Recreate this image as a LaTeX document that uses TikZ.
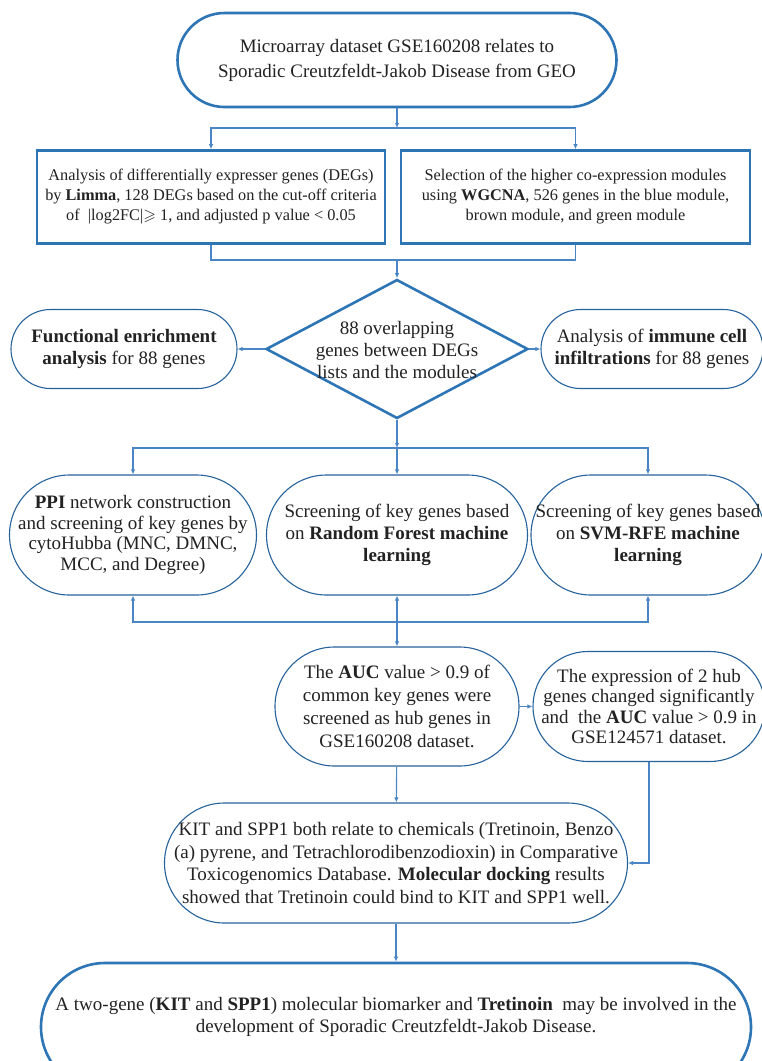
\documentclass[tikz,border=0pt]{standalone}
\usepackage{fontspec}
\setmainfont{Liberation Serif}
\usepackage{amssymb}
\usetikzlibrary{shapes.geometric,arrows.meta}
\definecolor{flowblue}{HTML}{2E75B6}
\definecolor{linkblue}{HTML}{4A86C5}
\definecolor{inkgray}{HTML}{222222}

\begin{document}
\begin{tikzpicture}[x=1pt, y=-1pt, >={Latex[length=5pt,width=4.5pt]}, text=inkgray,
		font=\fontsize{19}{22}\selectfont,
		thickpill/.style={draw=flowblue, line width=2.6pt, rounded corners=#1, inner sep=0pt, align=center},
		thinpill/.style={draw=flowblue!85!black, line width=1.1pt, rounded corners=#1, inner sep=0pt, align=center},
		bigbox/.style={draw=flowblue, line width=2.6pt, inner sep=0pt, align=center, minimum height=93, font=\fontsize{16.3}{20}\selectfont},
		link/.style={draw=linkblue, line width=1.1pt}]
		\useasboundingbox[fill=white] (0,0) rectangle (761,1061);
		% data source
		\node[thickpill=47, minimum width=439, minimum height=94, font=\fontsize{19}{25}\selectfont] (top) at (397,60)
			{Microarray dataset GSE160208 relates to\\Sporadic Creutzfeldt-Jakob Disease from GEO};
		% DEGs and WGCNA
		\node[bigbox, minimum width=348] (degs) at (211,197)
			{Analysis of differentially expresser genes (DEGs)\\by \textbf{Limma}, 128 DEGs based on the cut-off criteria\\of~ |log2FC|$\geqslant$ 1, and adjusted p value < 0.05};
		\node[bigbox, minimum width=349] (wgcna) at (575.5,197)
			{Selection of the higher co-expression modules\\using \textbf{WGCNA}, 526 genes in the blue module,\\brown module, and green module};
		% overlap of both lists
		\node[diamond, draw=flowblue, line width=2.6pt, minimum width=262, minimum height=139, inner sep=0pt] (overlap) at (397,349) {};
		\node[align=center] (overlaptext) at (397,350) {88 overlapping\\genes between DEGs\\lists and the modules};
		\node[thinpill=39.5, minimum width=226, minimum height=79] (func) at (124,349)
			{\textbf{Functional enrichment}\\\textbf{analysis} for 88 genes};
		\node[thinpill=39.5, minimum width=222, minimum height=79] (immune) at (652,349)
			{Analysis of \textbf{immune cell}\\\textbf{infiltrations} for 88 genes};
		% screening of key genes
		\node[thinpill=60, minimum width=247, minimum height=120, font=\fontsize{19}{20.5}\selectfont] (ppi) at (133,535)
			{\textbf{PPI} network construction\\and screening of key genes by\\cytoHubba (MNC, DMNC,\\MCC, and Degree)};
		\node[thinpill=60, minimum width=261, minimum height=120] (rf) at (397,535)
			{Screening of key genes based\\on \textbf{Random Forest machine}\\\textbf{learning}};
		\node[thinpill=60, minimum width=234, minimum height=120] (svm) at (648,535)
			{Screening of key genes based\\on \textbf{SVM-RFE machine}\\\textbf{learning}};
		% hub genes
		\node[thinpill=59.5, minimum width=244, minimum height=119, font=\fontsize{19}{23}\selectfont] (auc) at (397,706.5)
			{The \textbf{AUC} value > 0.9 of\\common key genes were\\screened as hub genes in\\GSE160208 dataset.};
		\node[thinpill=55, minimum width=232, minimum height=110, font=\fontsize{19}{20.5}\selectfont] (hub) at (649,706.5)
			{The expression of 2 hub\\genes changed significantly\\and~ the \textbf{AUC} value > 0.9 in\\GSE124571 dataset.};
		\node[thinpill=60, minimum width=463, minimum height=120, font=\fontsize{19}{22.5}\selectfont] (kit) at (396,863)
			{KIT and SPP1 both relate to chemicals (Tretinoin, Benzo\\(a) pyrene, and Tetrachlorodibenzodioxin) in Comparative\\Toxicogenomics Database. \textbf{Molecular docking} results\\showed that Tretinoin could bind to KIT and SPP1 well.};
		% conclusion
		\node[thickpill=64, minimum width=710, minimum height=128] (final) at (396,1027) {};
		\node[align=center] (finaltext) at (396,1017)
			{A two-gene (\textbf{KIT} and \textbf{SPP1}) molecular biomarker and \textbf{Tretinoin}~ may be involved in the\\development of Sporadic Creutzfeldt-Jakob Disease.};
		% connectors
		\coordinate (j1) at (397,128);
		\coordinate (j2) at (397,260);
		\coordinate (j3) at (397,448);
		\coordinate (j4) at (397,622);
		\draw[link,->] (top) -- (j1);
		\draw[link,->] (j1) -| (degs);
		\draw[link,->] (j1) -| (wgcna);
		\draw[link] (degs) |- (j2) -| (wgcna);
		\draw[link,->] (j2) -- (overlap);
		\draw[link,->] (overlap.west) -- (func.east);
		\draw[link,->] (overlap.east) -- (immune.west);
		\draw[link,->] (overlap) -- (j3);
		\draw[link,->] (j3) -| (ppi);
		\draw[link,->] (j3) -- (rf);
		\draw[link,->] (j3) -| (svm);
		\draw[link,->] (j4) -| (ppi);
		\draw[link,->] (j4) -- (rf);
		\draw[link,->] (j4) -| (svm);
		\draw[link,->] (j4) -- (auc);
		\draw[link,->] (auc) -- (hub);
		\draw[link,->] (hub) |- (kit);
		\draw[link,->] (auc) -- (kit);
		\draw[link,->] (kit) -- (final);
	\end{tikzpicture}
\end{document}
